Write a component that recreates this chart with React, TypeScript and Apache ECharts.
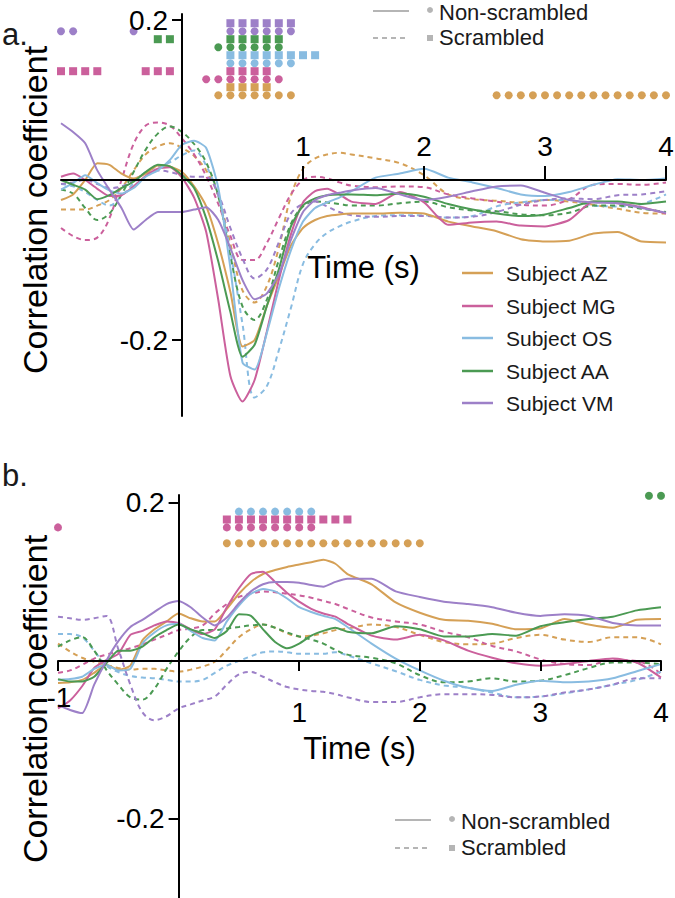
import React, { useEffect, useRef } from "react";
import * as echarts from "echarts";

// ---------- DATA ----------
const times = [
  -1.0, -0.9, -0.8, -0.7, -0.6, -0.5, -0.4, -0.3, -0.2, -0.1, 0, 0.1, 0.2, 0.3, 0.4, 0.5, 0.6, 0.7, 0.8, 0.9,
  1.0, 1.1, 1.2, 1.3, 1.4, 1.6, 1.8, 2.0, 2.2, 2.4, 2.6, 2.8, 3.0, 3.2, 3.4, 3.6, 3.8, 4.0,
];
const subjects = ["Subject AZ", "Subject MG", "Subject OS", "Subject AA", "Subject VM"];
const xTickValues = [1, 2, 3, 4];
const yTickValues = [-0.2, 0.2];

// Panel a – solid (non-scrambled) / dashed (scrambled)
const aAZ = [-0.025, -0.018, 0.0, 0.021, 0.019, 0.008, 0.002, 0.008, 0.018, 0.017, 0.01, -0.008, -0.033, -0.08, -0.14, -0.208, -0.2, -0.158, -0.12, -0.082, -0.06, -0.05, -0.045, -0.043, -0.042, -0.042, -0.041, -0.042, -0.052, -0.058, -0.064, -0.074, -0.077, -0.076, -0.067, -0.065, -0.077, -0.078];
const aAZs = [-0.037, -0.037, -0.037, -0.032, -0.025, -0.01, 0.012, 0.032, 0.042, 0.046, 0.04, 0.03, 0.012, -0.02, -0.08, -0.138, -0.153, -0.133, -0.085, -0.02, 0.014, 0.027, 0.032, 0.034, 0.032, 0.027, 0.021, 0.006, -0.018, -0.024, -0.026, -0.028, -0.025, -0.027, -0.031, -0.036, -0.041, -0.042];
const aMG = [0.004, 0.008, 0.0, -0.011, -0.02, -0.019, -0.008, 0.005, 0.014, 0.016, 0.003, -0.022, -0.065, -0.15, -0.245, -0.277, -0.25, -0.19, -0.125, -0.068, -0.028, -0.014, -0.011, -0.018, -0.027, -0.03, -0.015, -0.028, -0.056, -0.053, -0.052, -0.057, -0.058, -0.05, -0.027, -0.029, -0.034, -0.042];
const aMGs = [-0.06, -0.07, -0.075, -0.072, -0.048, 0.0, 0.045, 0.068, 0.072, 0.068, 0.052, 0.032, 0.005, -0.03, -0.07, -0.1, -0.1, -0.079, -0.048, -0.018, 0.0, 0.004, 0.002, -0.003, -0.007, -0.009, -0.008, -0.009, -0.018, -0.023, -0.027, -0.031, -0.032, -0.024, -0.006, -0.005, -0.006, -0.003];
const aOS = [-0.012, -0.004, 0.006, -0.004, -0.013, -0.017, -0.01, 0.004, 0.012, 0.025, 0.044, 0.049, 0.04, -0.01, -0.11, -0.228, -0.237, -0.192, -0.136, -0.088, -0.052, -0.035, -0.028, -0.022, -0.014, 0.003, 0.008, 0.014, 0.003, -0.003, -0.01, -0.018, -0.02, -0.015, -0.006, 0.001, 0.0, 0.002];
const aOSs = [-0.005, -0.008, -0.015, -0.025, -0.032, -0.02, -0.004, 0.01, 0.016, 0.022, 0.031, 0.037, 0.018, -0.02, -0.09, -0.18, -0.272, -0.258, -0.213, -0.16, -0.105, -0.08, -0.066, -0.058, -0.052, -0.045, -0.044, -0.044, -0.047, -0.045, -0.033, -0.028, -0.025, -0.025, -0.032, -0.033, -0.03, -0.018];
const aAA = [0.0, -0.006, -0.012, -0.024, -0.019, -0.01, -0.002, 0.01, 0.019, 0.017, 0.006, -0.01, -0.048, -0.102, -0.165, -0.221, -0.206, -0.158, -0.112, -0.058, -0.032, -0.023, -0.019, -0.018, -0.018, -0.019, -0.017, -0.021, -0.03, -0.037, -0.042, -0.045, -0.043, -0.035, -0.027, -0.027, -0.03, -0.027];
const aAAs = [-0.012, -0.017, -0.035, -0.05, -0.042, -0.018, 0.01, 0.038, 0.058, 0.067, 0.06, 0.045, 0.022, -0.02, -0.095, -0.158, -0.175, -0.15, -0.1, -0.055, -0.033, -0.027, -0.028, -0.03, -0.032, -0.032, -0.029, -0.027, -0.034, -0.038, -0.039, -0.043, -0.044, -0.041, -0.032, -0.032, -0.036, -0.04];
const aVM = [0.071, 0.06, 0.046, 0.012, -0.012, -0.035, -0.062, -0.05, -0.04, -0.04, -0.04, -0.037, -0.034, -0.05, -0.085, -0.125, -0.149, -0.142, -0.118, -0.075, -0.04, -0.025, -0.019, -0.016, -0.013, -0.01, -0.018, -0.025, -0.021, -0.014, -0.008, -0.007, -0.016, -0.025, -0.028, -0.029, -0.035, -0.041];
const aVMs = [-0.005, -0.003, 0.0, -0.005, -0.01, -0.008, 0.0, 0.008, 0.012, 0.01, 0.006, 0.004, 0.004, -0.018, -0.06, -0.098, -0.123, -0.112, -0.078, -0.042, -0.03, -0.027, -0.033, -0.04, -0.044, -0.046, -0.045, -0.045, -0.047, -0.046, -0.04, -0.031, -0.025, -0.023, -0.024, -0.019, -0.018, -0.014];

// Panel b
const bAZ = [-0.028, -0.027, -0.024, -0.015, -0.005, -0.011, -0.006, 0.026, 0.04, 0.05, 0.06, 0.054, 0.05, 0.05, 0.066, 0.085, 0.1, 0.11, 0.115, 0.119, 0.122, 0.125, 0.128, 0.123, 0.11, 0.097, 0.074, 0.061, 0.052, 0.051, 0.047, 0.04, 0.041, 0.053, 0.046, 0.042, 0.052, 0.053];
const bAZs = [0.022, 0.012, 0.004, -0.001, -0.005, -0.009, -0.011, -0.01, -0.01, -0.012, -0.0135, -0.011, -0.007, -0.001, 0.014, 0.03, 0.04, 0.046, 0.042, 0.035, 0.031, 0.032, 0.035, 0.039, 0.041, 0.046, 0.043, 0.033, 0.024, 0.021, 0.022, 0.029, 0.033, 0.027, 0.024, 0.03, 0.03, 0.021];
const bMG = [-0.06, -0.05, -0.032, -0.009, 0.001, 0.009, 0.033, 0.038, 0.045, 0.05, 0.048, 0.04, 0.034, 0.04, 0.068, 0.092, 0.11, 0.113, 0.1, 0.086, 0.075, 0.066, 0.06, 0.056, 0.047, 0.032, 0.027, 0.033, 0.026, 0.013, 0.004, -0.003, -0.006, -0.004, 0.0, 0.003, -0.002, -0.021];
const bMGs = [-0.015, -0.012, -0.005, 0.003, 0.008, 0.012, 0.016, 0.021, 0.027, 0.033, 0.039, 0.041, 0.045, 0.06, 0.072, 0.081, 0.085, 0.088, 0.087, 0.085, 0.083, 0.08, 0.076, 0.072, 0.066, 0.055, 0.05, 0.046, 0.037, 0.03, 0.019, 0.012, 0.002, -0.004, -0.005, 0.001, 0.0, -0.016];
const bOS = [-0.024, -0.023, -0.02, -0.01, -0.005, -0.012, -0.01, 0.022, 0.036, 0.045, 0.047, 0.038, 0.029, 0.026, 0.05, 0.07, 0.085, 0.091, 0.088, 0.079, 0.068, 0.062, 0.057, 0.053, 0.043, 0.022, 0.003, -0.012, -0.025, -0.034, -0.038, -0.03, -0.025, -0.027, -0.026, -0.022, -0.013, -0.004];
const bOSs = [0.034, 0.034, 0.03, 0.013, -0.006, -0.014, -0.019, -0.021, -0.022, -0.024, -0.026, -0.026, -0.024, -0.015, -0.006, 0.0, 0.006, 0.011, 0.012, 0.011, 0.009, 0.009, 0.009, 0.011, 0.007, -0.003, -0.013, -0.024, -0.031, -0.034, -0.04, -0.046, -0.045, -0.041, -0.036, -0.03, -0.024, -0.0135];
const bAA = [-0.023, -0.026, -0.026, -0.02, -0.003, 0.013, 0.013, 0.018, 0.03, 0.039, 0.046, 0.04, 0.035, 0.029, 0.038, 0.059, 0.057, 0.04, 0.024, 0.016, 0.022, 0.032, 0.038, 0.042, 0.037, 0.035, 0.044, 0.04, 0.031, 0.031, 0.034, 0.032, 0.044, 0.049, 0.053, 0.056, 0.064, 0.068];
const bAAs = [0.018, 0.026, 0.03, 0.013, -0.011, -0.03, -0.046, -0.049, -0.035, -0.01, 0.012, 0.03, 0.039, 0.039, 0.041, 0.043, 0.045, 0.046, 0.042, 0.036, 0.031, 0.027, 0.022, 0.014, 0.008, 0.004, -0.003, -0.018, -0.027, -0.026, -0.022, -0.026, -0.025, -0.018, -0.009, -0.002, -0.002, -0.004];
const bVM = [-0.056, -0.062, -0.066, -0.03, 0.0, 0.025, 0.043, 0.052, 0.062, 0.072, 0.076, 0.068, 0.055, 0.045, 0.055, 0.073, 0.088, 0.097, 0.1, 0.1, 0.099, 0.096, 0.094, 0.1, 0.104, 0.104, 0.088, 0.081, 0.075, 0.072, 0.068, 0.061, 0.057, 0.059, 0.057, 0.048, 0.045, 0.045];
const bVMs = [0.056, 0.054, 0.052, 0.054, 0.057, 0.015, -0.03, -0.065, -0.075, -0.07, -0.06, -0.055, -0.05, -0.045, -0.03, -0.017, -0.014, -0.02, -0.027, -0.033, -0.036, -0.038, -0.039, -0.042, -0.046, -0.052, -0.052, -0.046, -0.042, -0.042, -0.043, -0.046, -0.045, -0.04, -0.036, -0.03, -0.022, -0.022];

// Significant time bins (s) – panel a
const sigA_VM_dot = [-1.0, -0.9, -0.4, 0.4, 0.5, 0.6, 0.7, 0.8, 0.9];
const sigA_VM_sq = [0.4, 0.5, 0.6, 0.7, 0.8, 0.9];
const sigA_AA_sq = [-0.2, -0.1, 0.4, 0.5, 0.6, 0.7, 0.8];
const sigA_AA_dot = [0.3, 0.4, 0.5, 0.6, 0.7, 0.8];
const sigA_OS_sq = [0.4, 0.5, 0.6, 0.7, 0.8, 0.9, 1.0, 1.1];
const sigA_OS_dot = [0.4, 0.5, 0.6, 0.7, 0.8, 0.9];
const sigA_MG_sq = [-1.0, -0.9, -0.8, -0.7, -0.3, -0.2, -0.1, 0.4, 0.5, 0.6, 0.7];
const sigA_MG_dot = [0.2, 0.3, 0.4, 0.5, 0.6, 0.7, 0.8];
const sigA_AZ_sq = [0.4, 0.5, 0.6, 0.7];
const sigA_AZ_dot = [0.3, 0.4, 0.5, 0.6, 0.7, 0.8, 0.9, 2.6, 2.7, 2.8, 2.9, 3.0, 3.1, 3.2, 3.3, 3.4, 3.5, 3.6, 3.7, 3.8, 3.9, 4.0];
// panel b
const sigB_AA_dot = [3.9, 4.0];
const sigB_OS_dot = [0.5, 0.6, 0.7, 0.8, 0.9, 1.0, 1.1];
const sigB_MG_sq = [0.4, 0.5, 0.6, 0.7, 0.8, 0.9, 1.0, 1.1, 1.2, 1.3, 1.4];
const sigB_MG_dot = [-1.0, 0.4, 0.5, 0.6, 0.7, 0.8, 0.9, 1.0, 1.1];
const sigB_AZ_dot = [0.4, 0.5, 0.6, 0.7, 0.8, 0.9, 1.0, 1.1, 1.2, 1.3, 1.4, 1.5, 1.6, 1.7, 1.8, 1.9, 2.0];

// ---------- STYLE ----------
const COLORS: Record<string, string> = {
  AZ: "#D5A056",
  MG: "#CB609C",
  OS: "#89BCE1",
  AA: "#4B9A53",
  VM: "#9D80C8",
};
const FONT = "'Liberation Sans', Arial, Helvetica, sans-serif";
const GREY = "#b5b5b5";

function buildOption() {
  const pair = (vals: number[]) => times.map((t, i) => [t, vals[i]]);
  const series: any[] = [];
  const panels = [
    { idx: 0, data: { AZ: [aAZ, aAZs], MG: [aMG, aMGs], OS: [aOS, aOSs], AA: [aAA, aAAs], VM: [aVM, aVMs] } },
    { idx: 1, data: { AZ: [bAZ, bAZs], MG: [bMG, bMGs], OS: [bOS, bOSs], AA: [bAA, bAAs], VM: [bVM, bVMs] } },
  ];
  const keys = ["AZ", "MG", "OS", "AA", "VM"];
  panels.forEach((p) => {
    keys.forEach((k, si) => {
      const dashed = (p.data as any)[k][1];
      series.push({
        type: "line",
        name: subjects[si] + " scrambled",
        xAxisIndex: p.idx,
        yAxisIndex: p.idx,
        data: pair(dashed),
        showSymbol: false,
        smooth: 0.35,
        lineStyle: { color: COLORS[k], width: 2, type: [5, 4] },
        z: 3,
      });
    });
    keys.forEach((k, si) => {
      const solid = (p.data as any)[k][0];
      series.push({
        type: "line",
        name: subjects[si],
        xAxisIndex: p.idx,
        yAxisIndex: p.idx,
        data: pair(solid),
        showSymbol: false,
        smooth: 0.2,
        lineStyle: { color: COLORS[k], width: 2 },
        z: 4,
      });
    });
  });

  // significance rows: row k value = top - 0.01*k
  const rowsA: [number[], string, string, number][] = [
    [sigA_VM_sq, "VM", "rect", 0],
    [sigA_VM_dot, "VM", "circle", 1],
    [sigA_AA_sq, "AA", "rect", 2],
    [sigA_AA_dot, "AA", "circle", 3],
    [sigA_OS_sq, "OS", "rect", 4],
    [sigA_OS_dot, "OS", "circle", 5],
    [sigA_MG_sq, "MG", "rect", 6],
    [sigA_MG_dot, "MG", "circle", 7],
    [sigA_AZ_sq, "AZ", "rect", 8],
    [sigA_AZ_dot, "AZ", "circle", 9],
  ];
  const rowsB: [number[], string, string, number][] = [
    [sigB_AA_dot, "AA", "circle", 3],
    [sigB_OS_dot, "OS", "circle", 5],
    [sigB_MG_sq, "MG", "rect", 6],
    [sigB_MG_dot, "MG", "circle", 7],
    [sigB_AZ_dot, "AZ", "circle", 9],
  ];
  const addRows = (rows: [number[], string, string, number][], idx: number, top: number) => {
    rows.forEach(([ts, k, sym, r]) => {
      series.push({
        type: "scatter",
        xAxisIndex: idx,
        yAxisIndex: idx,
        data: ts.map((t) => [t, top - 0.01 * r]),
        symbol: sym,
        symbolSize: 8,
        itemStyle: { color: COLORS[k], opacity: 1 },
        clip: false,
        silent: true,
        z: 5,
      });
    });
  };
  addRows(rowsA, 0, 0.196);
  addRows(rowsB, 1, 0.239);

  const axisLine = { onZero: false, lineStyle: { color: "#000", width: 2 } };
  const tickStyle = { color: "#000", width: 2 };
  const labelBase = { color: "#000", fontSize: 28, fontFamily: FONT };

  const xAxis = [
    {
      gridIndex: 0,
      type: "value",
      position: "bottom",
      offset: -236,
      min: -1,
      max: 4,
      z: 6,
      axisLine,
      splitLine: { show: false },
      axisTick: { show: true, customValues: xTickValues, inside: true, length: 14, lineStyle: tickStyle },
      axisLabel: { ...labelBase, customValues: xTickValues, inside: true, margin: 20 },
      name: "Time (s)",
      nameLocation: "middle",
      nameGap: 72,
      nameMoveOverlap: false,
      nameTextStyle: { color: "#000", fontSize: 31, fontFamily: FONT },
    },
    {
      gridIndex: 1,
      type: "value",
      position: "bottom",
      offset: -237,
      min: -1,
      max: 4,
      z: 6,
      axisLine,
      splitLine: { show: false },
      axisTick: { show: true, customValues: [-1, ...xTickValues], inside: false, length: 10, lineStyle: tickStyle },
      axisLabel: { ...labelBase, customValues: xTickValues, margin: 37 },
      name: "Time (s)",
      nameLocation: "middle",
      nameGap: 72,
      nameMoveOverlap: false,
      nameTextStyle: { color: "#000", fontSize: 31, fontFamily: FONT },
    },
  ];
  const yAxis = [
    {
      gridIndex: 0,
      type: "value",
      position: "left",
      offset: -121,
      min: -0.295,
      max: 0.2075,
      z: 6,
      axisLine,
      splitLine: { show: false },
      axisTick: { show: true, customValues: yTickValues, length: 10, lineStyle: tickStyle },
      axisLabel: { ...labelBase, customValues: yTickValues, margin: 14 },
    },
    {
      gridIndex: 1,
      type: "value",
      position: "left",
      offset: -120.6,
      min: -0.3,
      max: 0.21,
      z: 6,
      axisLine,
      splitLine: { show: false },
      axisTick: { show: true, customValues: yTickValues, length: 10, lineStyle: tickStyle },
      axisLabel: { ...labelBase, customValues: yTickValues, margin: 14 },
    },
  ];

  const txt = (x: number, y: number, text: string, size: number) => ({
    type: "text",
    x,
    y,
    silent: true,
    z: 10,
    style: { text, fill: "#1a1a1a", font: `${size}px ${FONT}`, textVerticalAlign: "middle" },
  });

  const graphic: any[] = [
    // panel letters
    txt(2, 34, "a.", 31),
    txt(2, 475, "b.", 31),
    // y-axis titles
    { type: "text", x: 35, y: 210, rotation: Math.PI / 2, silent: true, z: 10,
      style: { text: "Correlation coefficient", fill: "#000", font: `34px ${FONT}`, textAlign: "center", textVerticalAlign: "middle" } },
    { type: "text", x: 35, y: 699, rotation: Math.PI / 2, silent: true, z: 10,
      style: { text: "Correlation coefficient", fill: "#000", font: `34px ${FONT}`, textAlign: "center", textVerticalAlign: "middle" } },
    // -1 label panel b
    { type: "text", x: 59, y: 697, silent: true, z: 20,
      style: { text: "-1", fill: "#000", font: `28px ${FONT}`, textAlign: "center", textVerticalAlign: "middle" } },
  ];

  // condition legends
  const condLegend = (x0: number, y1: number, y2: number) => {
    graphic.push(
      { type: "line", shape: { x1: x0, y1, x2: x0 + 36, y2: y1 }, style: { stroke: GREY, lineWidth: 2 }, silent: true },
      { type: "circle", shape: { cx: x0 + 57, cy: y1 - 1, r: 3 }, style: { fill: GREY }, silent: true },
      txt(x0 + 66, y1 + 1, "Non-scrambled", 22),
      { type: "line", shape: { x1: x0, y1: y2, x2: x0 + 36, y2 }, style: { stroke: GREY, lineWidth: 2, lineDash: [5, 4] }, silent: true },
      { type: "rect", shape: { x: x0 + 54, y: y2 - 3, width: 6, height: 6 }, style: { fill: GREY }, silent: true },
      txt(x0 + 66, y2 - 1, "Scrambled", 22)
    );
  };
  condLegend(373, 11, 38);
  condLegend(395, 820, 848);

  // subject legend (panel a)
  const legY = [273, 306, 338, 371, 403];
  keys.forEach((k, i) => {
    graphic.push(
      { type: "line", shape: { x1: 462, y1: legY[i], x2: 493, y2: legY[i] }, style: { stroke: COLORS[k], lineWidth: 2.5 }, silent: true },
      txt(506, legY[i], subjects[i], 21)
    );
  });

  return {
    animation: false,
    backgroundColor: "#fff",
    textStyle: { fontFamily: FONT },
    grid: [
      { left: 61, top: 14, width: 605, height: 402, outerBoundsMode: "none", containLabel: false },
      { left: 58, top: 495, width: 603, height: 403, outerBoundsMode: "none", containLabel: false },
    ],
    xAxis,
    yAxis,
    series,
    graphic,
  };
}

export default function App() {
  const ref = useRef<HTMLDivElement>(null);
  useEffect(() => {
    if (!ref.current) return;
    const chart = echarts.init(ref.current, undefined, { renderer: "svg" });
    chart.setOption(buildOption() as any);
    return () => chart.dispose();
  }, []);
  return (
    <div
      ref={ref}
      style={{ position: "absolute", left: 0, top: 0, width: 675, height: 898, background: "#fff" }}
    />
  );
}
